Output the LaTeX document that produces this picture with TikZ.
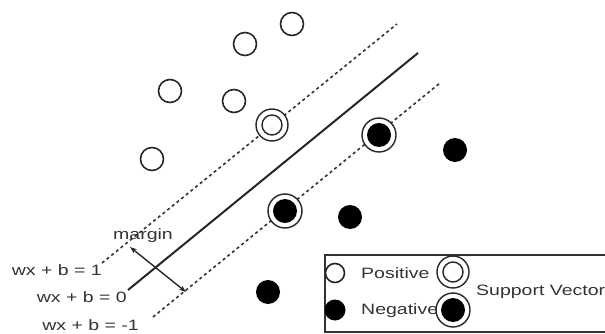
\documentclass[tikz,border=0pt]{standalone}
\usepackage{fontspec}
\setmainfont{Liberation Sans}[FakeStretch=1.3]
\usetikzlibrary{arrows.meta}
\tikzset{
  possample/.style={circle, draw=black!85, line width=1.6pt, fill=white, minimum size=23pt, inner sep=0pt},
  negsample/.style={circle, fill=black, minimum size=24pt, inner sep=0pt},
  svpos/.style={circle, draw=black!85, line width=1.4pt, fill=white, minimum size=32pt, inner sep=0pt,
    path picture={\draw[black!85, line width=1.4pt] (path picture bounding box.center) circle (10pt);}},
  svneg/.style={circle, draw=black!85, line width=1.4pt, fill=white, minimum size=34pt, inner sep=0pt,
    path picture={\fill[black] (path picture bounding box.center) circle (12pt);}},
  bound/.style={black!80, line width=1.6pt, dash pattern=on 3pt off 3pt},
  hyper/.style={black!85, line width=2pt},
  lbl/.style={font=\fontsize{15}{17}\selectfont, text=black!80, inner sep=0pt},
}
\begin{document}
\begin{tikzpicture}[x=1pt, y=-1pt]
\useasboundingbox (0,0) rectangle (605,334);
\clip (0,0) rectangle (605,334);

% hyperplane and margin boundaries
\coordinate (u1) at (102,263); \coordinate (u2) at (397,24);
\coordinate (h1) at (128,290); \coordinate (h2) at (418,53);
\coordinate (l1) at (153,317); \coordinate (l2) at (440,83);
\draw[bound] (u1) -- (u2);
\draw[hyper] (h1) -- (h2);
\draw[bound] (l1) -- (l2);

% margin arrow
\coordinate (m1) at (130,247); \coordinate (m2) at (186,292);
\draw[black!85, line width=1.4pt, {Stealth[length=7pt,width=5pt]}-{Stealth[length=7pt,width=5pt]}] (m1) -- (m2);
\node[lbl] (marg) at (143,236) {margin};

% equations
\node[lbl, anchor=east] (e1) at (102,270) {wx + b = 1};
\node[lbl, anchor=east] (e0) at (127,297) {wx + b = 0};
\node[lbl, anchor=east] (em) at (139,325) {wx + b = -1};

% positive samples
\node[possample] (p1) at (292,24) {};
\node[possample] (p2) at (245,44) {};
\node[possample] (p3) at (170,91) {};
\node[possample] (p4) at (234,101) {};
\node[possample] (p5) at (152,159) {};
\node[svpos] (sp1) at (272,125) {};

% negative samples
\node[svneg] (sn1) at (379,135) {};
\node[svneg] (sn2) at (285,211) {};
\node[negsample] (n1) at (350,217) {};
\node[negsample] (n2) at (455,150) {};
\node[negsample] (n3) at (268,292) {};

% legend
\draw[black!80, line width=1.6pt] (325,255) rectangle (640,332);
\node[possample, minimum size=19pt] (lp) at (335,273) {};
\node[lbl, anchor=west] (lpt) at (361,273) {Positive};
\node[negsample, minimum size=21pt] (ln) at (335,310) {};
\node[lbl, anchor=west] (lnt) at (361,311) {Negative};
\node[svpos] (lsp) at (453,272) {};
\node[svneg] (lsn) at (453,310) {};
\node[lbl, anchor=west] (lsv) at (476,292) {Support Vector};
\end{tikzpicture}
\end{document}
